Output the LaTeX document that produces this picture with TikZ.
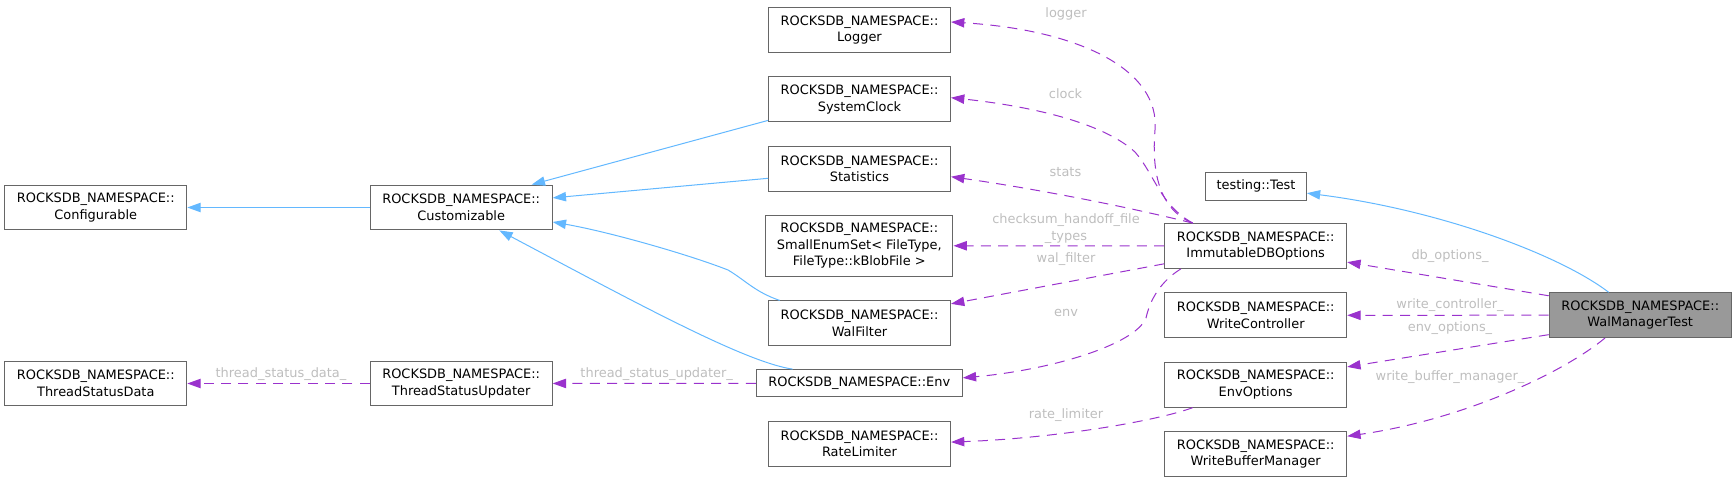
\documentclass[tikz,border=0pt]{standalone}
\usepackage{fontspec}
\setmainfont{DejaVu Sans}
\usepackage{xcolor}
\usepackage{tikz}
\usetikzlibrary{arrows.meta}
\definecolor{isablue}{HTML}{63B8FF}
\definecolor{usepurple}{HTML}{9A32CD}
\definecolor{boxgray}{HTML}{666666}
\definecolor{walgray}{HTML}{999999}
\definecolor{lblgray}{HTML}{BEBEBE}
\newcommand{\rns}{ROCKSDB\_NAMESPACE::}

\begin{document}
\begin{tikzpicture}[
  x=0.75pt, y=-0.75pt,
  box/.style={draw=boxgray, fill=white, line width=0.75pt, inner sep=0pt,
              minimum width=136.5pt, minimum height=33.6pt, align=center,
              font=\fontsize{9.7pt}{12.5pt}\selectfont},
  isa/.style={draw=isablue, line width=0.75pt, -{Triangle[length=10pt,width=7pt]}},
  uses/.style={draw=usepurple, line width=0.75pt, dash pattern=on 7.5pt off 5.5pt,
               -{Triangle[length=10pt,width=7pt]}},
  lbl/.style={text=lblgray, anchor=base, inner sep=0pt,
              font=\fontsize{9.7pt}{12.5pt}\selectfont},
]
\useasboundingbox (0,0) rectangle (1736,482);

\node[box] (configurable) at (95.8,207.5) {\rns\\Configurable};
\node[box] (customizable) at (461.2,207.5) {\rns\\Customizable};
\node[box] (tsdata) at (95.8,383.5) {\rns\\ThreadStatusData};
\node[box] (tsupdater) at (461.2,383.5) {\rns\\ThreadStatusUpdater};
\node[box] (logger) at (859.5,30) {\rns\\Logger};
\node[box] (sysclock) at (859.5,99.3) {\rns\\SystemClock};
\node[box] (statistics) at (859.5,168.7) {\rns\\Statistics};
\node[box, minimum width=140.5pt, minimum height=46pt] (enumset) at (859.3,245.7)
  {\rns\\SmallEnumSet< FileType,\\FileType::kBlobFile >};
\node[box] (walfilter) at (859.5,323.3) {\rns\\WalFilter};
\node[box, minimum width=154.5pt, minimum height=20.5pt] (env) at (859.3,383.3) {\rns Env};
\node[box] (ratelimiter) at (859.5,443.7) {\rns\\RateLimiter};
\node[box, minimum width=75.5pt, minimum height=21pt] (test) at (1256,186) {testing::Test};
\node[box] (immutable) at (1255.7,246) {\rns\\ImmutableDBOptions};
\node[box] (writectrl) at (1255.7,315.3) {\rns\\WriteController};
\node[box] (envoptions) at (1255.7,384.7) {\rns\\EnvOptions};
\node[box] (wbm) at (1255.7,454) {\rns\\WriteBufferManager};
\node[box, fill=walgray] (walmgr) at (1640.2,315.2) {\rns\\WalManagerTest};

\draw[isa] (customizable) -- (configurable);
\draw[isa] (sysclock.193) -- (customizable.18);
\draw[isa] (statistics.186) -- (customizable.6);
\draw[isa] (walfilter.164) .. controls (755,292) and (745,280) .. (728,270)
  .. controls (690,255) and (610,232) .. (customizable.-9);
\draw[isa] (env.168) .. controls (745,362) and (640,305) .. (customizable.-31);
\draw[isa] (walmgr.144) .. controls (1560,255) and (1440,210) .. (test.-8);

\draw[uses] (tsupdater) -- (tsdata);
\draw[uses] (env) -- (tsupdater);
\draw[uses] (immutable.160) .. controls (1170,214) and (1150,190) .. (1155,130)
  .. controls (1160,70) and (1080,30) .. (logger.5);
\draw[uses] (immutable.160) .. controls (1160,205) and (1155,175) .. (1135,152)
  .. controls (1100,120) and (1020,105) .. (sysclock.1);
\draw[uses] (immutable.160) .. controls (1120,205) and (1030,188) .. (statistics.-5);
\draw[uses] (immutable) -- (enumset);
\draw[uses] (immutable.191) -- (walfilter.12);
\draw[uses] (immutable.197) .. controls (1160,282) and (1150,300) .. (1146,318)
  .. controls (1135,345) and (1050,370) .. (env.3);
\draw[uses] (envoptions.200) .. controls (1160,420) and (1060,438) .. (ratelimiter.1);
\draw[uses] (walmgr.168) -- (immutable.-10);
\draw[uses] (walmgr) -- (writectrl);
\draw[uses] (walmgr.192) -- (envoptions.11);
\draw[uses] (walmgr.213) .. controls (1560,375) and (1460,420) .. (wbm.11);

\node[lbl] (lbllogger) at (1066,17) {logger};
\node[lbl] (lblclock) at (1065.5,98.3) {clock};
\node[lbl] (lblstats) at (1065.5,176.7) {stats};
\node[lbl, anchor=center, align=center] (lblchecksum) at (1066,228.7)
  {checksum\_handoff\_file\\\_types};
\node[lbl] (lblwalfilter) at (1066,262) {wal\_filter};
\node[lbl] (lblenv) at (1066,316) {env};
\node[lbl] (lblratelimiter) at (1066,418) {rate\_limiter};
\node[lbl] (lbldboptions) at (1450,259) {db\_options\_};
\node[lbl] (lblwritectrl) at (1450,308.5) {write\_controller\_};
\node[lbl] (lblenvoptions) at (1450,331.5) {env\_options\_};
\node[lbl] (lblwbm) at (1450,380.7) {write\_buffer\_manager\_};
\node[lbl] (lbltsdata) at (281,377.5) {thread\_status\_data\_};
\node[lbl] (lbltsupdater) at (656.7,377) {thread\_status\_updater\_};
\end{tikzpicture}
\end{document}
